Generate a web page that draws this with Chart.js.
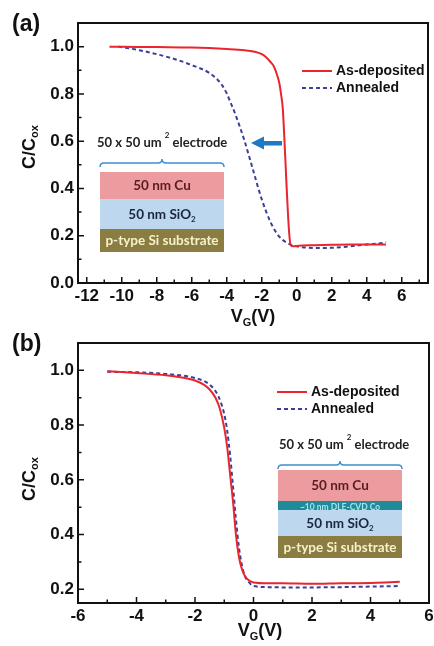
<!DOCTYPE html>
<html>
<head>
<meta charset="utf-8">
<script src="https://cdn.jsdelivr.net/npm/chart.js@4.4.1/dist/chart.umd.min.js"></script>
<style>
    body { margin: 0; background: #fff; width: 434px; height: 646px; position: relative; overflow: hidden; }
    canvas { position: absolute; left: 0; }
</style>
</head>
<body>
<canvas id="chartA" width="434" height="332" style="top:0"></canvas>
<canvas id="chartB" width="434" height="326" style="top:320px"></canvas>
<script>
const seriesNames = ["As-deposited", "Annealed"];

// panel (a): Cu only
const aVgDep = [-10.7, -10, -8, -6, -4, -3, -2.4, -2, -1.8, -1.5, -1.3, -1.1, -1.0, -0.9, -0.8, -0.7, -0.6, -0.5, -0.42, -0.35, -0.2, 0, 1, 2, 3, 4, 5, 5.1];
const aCDep = [1.0, 1.0, 0.998, 0.996, 0.99, 0.985, 0.978, 0.968, 0.958, 0.935, 0.915, 0.875, 0.847, 0.80, 0.74, 0.60, 0.44, 0.29, 0.20, 0.16, 0.155, 0.157, 0.160, 0.162, 0.163, 0.163, 0.163, 0.162];
const aVgAnn = [-10.2, -9, -8, -7, -6, -5, -4.5, -4.25, -4, -3.75, -3.5, -3, -2.5, -2, -1.5, -1, -0.5, 0, 0.5, 1, 2, 3, 4, 5, 5.1];
const aCAnn = [1.0, 0.985, 0.968, 0.948, 0.922, 0.889, 0.858, 0.835, 0.802, 0.758, 0.712, 0.605, 0.479, 0.354, 0.258, 0.196, 0.168, 0.155, 0.15, 0.148, 0.149, 0.155, 0.163, 0.17, 0.172];
const aXTicks = [-12, -10, -8, -6, -4, -2, 0, 2, 4, 6];
const aXLabels = ["-12", "-10", "-8", "-6", "-4", "-2", "0", "2", "4", "6"];
const aYTicks = [0, 0.2, 0.4, 0.6, 0.8, 1.0];
const aYLabels = ["0.0", "0.2", "0.4", "0.6", "0.8", "1.0"];

// panel (b): Cu on DLE-CVD Co
const bVgDep = [-5, -4, -3, -2.5, -2, -1.7, -1.5, -1.3, -1.15, -1.0, -0.9, -0.8, -0.7, -0.6, -0.5, -0.4, -0.3, -0.15, 0, 0.5, 1, 2, 3, 4, 4.5, 5];
const bCDep = [0.997, 0.99, 0.982, 0.975, 0.963, 0.948, 0.93, 0.9, 0.86, 0.79, 0.72, 0.62, 0.52, 0.40, 0.32, 0.275, 0.25, 0.232, 0.225, 0.222, 0.222, 0.22, 0.222, 0.223, 0.225, 0.228];
const bVgAnn = [-5, -4, -3, -2, -1.5, -1.2, -1.0, -0.9, -0.8, -0.7, -0.6, -0.5, -0.4, -0.3, -0.15, 0, 0.5, 1, 2, 3, 4, 5];
const bCAnn = [0.995, 0.993, 0.987, 0.972, 0.948, 0.905, 0.84, 0.78, 0.69, 0.575, 0.455, 0.355, 0.29, 0.25, 0.225, 0.212, 0.208, 0.207, 0.207, 0.208, 0.21, 0.212];
const bXTicks = [-6, -4, -2, 0, 2, 4, 6];
const bXLabels = ["-6", "-4", "-2", "0", "2", "4", "6"];
const bYTicks = [0.2, 0.4, 0.6, 0.8, 1.0];
const bYLabels = ["0.2", "0.4", "0.6", "0.8", "1.0"];

const SANS = '"Liberation Sans", Arial, sans-serif';
const INSET = 'Lato, "Open Sans", sans-serif';
const RED = "#e8262c";
const BLUE = "#3b3f99";

function pts(xs, ys) {
    return xs.map((x, i) => ({ x: x, y: ys[i] }));
}

// draws a row of text runs (for sub/superscripts)
function richText(ctx, runs, x, y, align) {
    let w = 0;
    runs.forEach(r => { ctx.font = r.font; r.w = ctx.measureText(r.text).width; w += r.w; });
    let cx = align === "center" ? x - w / 2 : x;
    runs.forEach(r => {
        ctx.font = r.font;
        ctx.fillStyle = r.color;
        ctx.fillText(r.text, cx, y + (r.dy || 0));
        cx += r.w;
    });
}

function drawBrace(ctx, x1, x2, y, h) {
    const mid = (x1 + x2) / 2;
    ctx.beginPath();
    ctx.moveTo(x1, y + h);
    ctx.quadraticCurveTo(x1, y, x1 + h, y);
    ctx.lineTo(mid - h, y);
    ctx.quadraticCurveTo(mid, y, mid, y - h);
    ctx.quadraticCurveTo(mid, y, mid + h, y);
    ctx.lineTo(x2 - h, y);
    ctx.quadraticCurveTo(x2, y, x2, y + h);
    ctx.strokeStyle = "#3d8fcf";
    ctx.lineWidth = 1.5;
    ctx.stroke();
}

function drawElectrodeLabel(ctx, x, y) {
    const f = "bold 13px " + INSET;
    const s = "bold 8px " + INSET;
    richText(ctx, [
        { text: "50 x 50 um ", font: f, color: "#222" },
        { text: "2", font: s, color: "#222", dy: -9 },
        { text: " electrode", font: f, color: "#222" }
    ], x, y, "left");
}

function layer(ctx, x, w, y0, y1, fill, runs) {
    ctx.fillStyle = fill;
    ctx.fillRect(x, y0, w, y1 - y0);
    if (runs) richText(ctx, runs, x + w / 2, (y0 + y1) / 2 + 4.5, "center");
}

function cuRuns() {
    return [{ text: "50 nm Cu", font: "bold 13.5px " + INSET, color: "#5a1c1e" }];
}
function oxRuns() {
    return [
        { text: "50 nm SiO", font: "bold 13.5px " + INSET, color: "#1b2640" },
        { text: "2", font: "bold 8px " + INSET, color: "#1b2640", dy: 3 }
    ];
}
function subRuns() {
    return [{ text: "p-type Si substrate", font: "bold 13.5px " + INSET, color: "#f5f1cc" }];
}

function frame(extra) {
    return {
        id: "frame",
        afterDraw(chart) {
            const ctx = chart.ctx;
            const { left, right, top, bottom } = chart.chartArea;
            const xs = chart.scales.x, ys = chart.scales.y;
            ctx.save();

            // inward ticks, major + minor
            ctx.strokeStyle = "#111";
            ctx.lineWidth = 1.5;
            ctx.beginPath();
            const xt = xs.ticks.map(t => t.value);
            const xStep = xt[1] - xt[0];
            xt.forEach(v => {
                const p = xs.getPixelForValue(v);
                ctx.moveTo(p, bottom); ctx.lineTo(p, bottom - 6);
            });
            xt.concat([xt[0] - xStep]).map(v => v + xStep / 2).forEach(v => {
                if (v <= xs.min || v >= xs.max) return;
                const p = xs.getPixelForValue(v);
                ctx.moveTo(p, bottom); ctx.lineTo(p, bottom - 3.5);
            });
            const yt = ys.ticks.map(t => t.value);
            const yStep = yt[1] - yt[0];
            yt.forEach(v => {
                const p = ys.getPixelForValue(v);
                ctx.moveTo(left, p); ctx.lineTo(left + 6, p);
            });
            yt.concat([yt[0] - yStep]).map(v => v + yStep / 2).forEach(v => {
                if (v <= ys.min + 1e-9 || v >= ys.max - 1e-9) return;
                const p = ys.getPixelForValue(v);
                ctx.moveTo(left, p); ctx.lineTo(left + 3.5, p);
            });
            ctx.stroke();

            ctx.lineWidth = 2;
            ctx.strokeRect(left, top, right - left, bottom - top);

            ctx.textBaseline = "alphabetic";
            // panel letter
            ctx.font = "bold 23px " + SANS;
            ctx.fillStyle = "#111";
            ctx.fillText(extra.letter, 12, 31);

            // y title C/Cox
            ctx.save();
            ctx.translate(35, extra.yTitleY);
            ctx.rotate(-Math.PI / 2);
            richText(ctx, [
                { text: "C/C", font: "bold 18px " + SANS, color: "#111" },
                { text: "ox", font: "bold 11px " + SANS, color: "#111", dy: 3 }
            ], 0, 0, "center");
            ctx.restore();

            // x title VG(V)
            richText(ctx, [
                { text: "V", font: "bold 18px " + SANS, color: "#111" },
                { text: "G", font: "bold 11px " + SANS, color: "#111", dy: 4 },
                { text: "(V)", font: "bold 18px " + SANS, color: "#111" }
            ], extra.xTitleX, extra.xTitleY, "center");

            // legend
            chart.data.datasets.forEach((ds, i) => {
                const y = extra.legY + i * 17;
                ctx.beginPath();
                ctx.setLineDash(ds.borderDash || []);
                ctx.strokeStyle = ds.borderColor;
                ctx.lineWidth = 2;
                ctx.moveTo(extra.legX, y);
                ctx.lineTo(extra.legX + 30, y);
                ctx.stroke();
                ctx.setLineDash([]);
                ctx.font = "bold 14px " + SANS;
                ctx.fillStyle = "#111";
                ctx.textBaseline = "middle";
                ctx.fillText(ds.label, extra.legX + 34, y);
                ctx.textBaseline = "alphabetic";
            });

            extra.draw(ctx);
            ctx.restore();
        }
    };
}

function makeChart(id, cfg) {
    const font = { family: SANS, size: 17, weight: "bold" };
    return new Chart(document.getElementById(id), {
        type: "scatter",
        data: {
            datasets: [
                {
                    label: seriesNames[0],
                    data: pts(cfg.depX, cfg.depY),
                    showLine: true,
                    borderColor: RED,
                    borderWidth: 2,
                    pointRadius: 0,
                    cubicInterpolationMode: "monotone"
                },
                {
                    label: seriesNames[1],
                    data: pts(cfg.annX, cfg.annY),
                    showLine: true,
                    borderColor: BLUE,
                    borderWidth: 2,
                    borderDash: [4, 3],
                    pointRadius: 0,
                    cubicInterpolationMode: "monotone"
                }
            ]
        },
        options: {
            responsive: false,
            animation: false,
            events: [],
            layout: { padding: cfg.padding },
            plugins: { legend: { display: false }, tooltip: { enabled: false } },
            scales: {
                x: {
                    type: "linear",
                    min: cfg.xMin, max: cfg.xMax,
                    grid: { display: false, drawTicks: false },
                    border: { display: false },
                    afterBuildTicks: s => { s.ticks = cfg.xTicks.map(v => ({ value: v })); },
                    afterFit: s => { s.height = cfg.xAxisH; s.paddingLeft = 0; s.paddingRight = 0; },
                    ticks: {
                        autoSkip: false, maxRotation: 0, padding: 3,
                        font: font, color: "#111",
                        callback: (v, i) => cfg.xLabels[i]
                    }
                },
                y: {
                    min: cfg.yMin, max: cfg.yMax,
                    grid: { display: false, drawTicks: false },
                    border: { display: false },
                    afterBuildTicks: s => { s.ticks = cfg.yTicks.map(v => ({ value: v })); },
                    afterFit: s => { s.width = 78; s.paddingTop = 0; s.paddingBottom = 0; },
                    ticks: {
                        autoSkip: false, padding: 4,
                        font: font, color: "#111",
                        callback: (v, i) => cfg.yLabels[i]
                    }
                }
            }
        },
        plugins: [frame(cfg.extra)]
    });
}

makeChart("chartA", {
    depX: aVgDep, depY: aCDep, annX: aVgAnn, annY: aCAnn,
    xMin: -12.5, xMax: 7.5, yMin: 0, yMax: 1.1,
    xTicks: aXTicks, xLabels: aXLabels, yTicks: aYTicks, yLabels: aYLabels,
    padding: { left: 0, top: 23, right: 6, bottom: 0 },
    xAxisH: 49,
    extra: {
        letter: "(a)", yTitleY: 147, xTitleX: 253, xTitleY: 322, legX: 302, legY: 71,
        draw(ctx) {
            drawElectrodeLabel(ctx, 97, 147);
            drawBrace(ctx, 100, 224, 163, 4);
            layer(ctx, 100, 124, 172, 199, "#ec9c9e", cuRuns());
            layer(ctx, 100, 124, 199, 229, "#bcd7ee", oxRuns());
            layer(ctx, 100, 124, 229, 252, "#8b7c42", subRuns());
            // shift arrow
            ctx.fillStyle = "#1e78c2";
            ctx.fillRect(262, 141, 20, 4.5);
            ctx.beginPath();
            ctx.moveTo(251, 143);
            ctx.lineTo(264, 136.5);
            ctx.lineTo(264, 149.5);
            ctx.closePath();
            ctx.fill();
        }
    }
});

makeChart("chartB", {
    depX: bVgDep, depY: bCDep, annX: bVgAnn, annY: bCAnn,
    xMin: -6, xMax: 6, yMin: 0.15, yMax: 1.1,
    xTicks: bXTicks, xLabels: bXLabels, yTicks: bYTicks, yLabels: bYLabels,
    padding: { left: 0, top: 23, right: 5, bottom: 0 },
    xAxisH: 43,
    extra: {
        letter: "(b)", yTitleY: 159, xTitleX: 260, xTitleY: 316, legX: 277, legY: 72,
        draw(ctx) {
            drawElectrodeLabel(ctx, 279, 129);
            drawBrace(ctx, 278, 402, 145, 4);
            layer(ctx, 278, 124, 150, 181, "#ec9c9e", cuRuns());
            layer(ctx, 278, 124, 181, 190, "#1d8b99", [
                { text: "~10 nm DLE-CVD Co", font: "bold 8.5px " + INSET, color: "#a9e2ea" }
            ]);
            layer(ctx, 278, 124, 190, 216, "#bcd7ee", oxRuns());
            layer(ctx, 278, 124, 216, 238, "#8b7c42", subRuns());
        }
    }
});
</script>
</body>
</html>
